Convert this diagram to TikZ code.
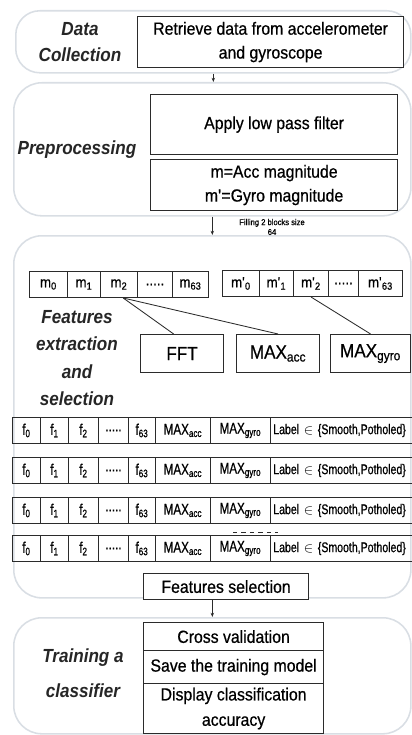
\documentclass[tikz,border=0pt]{standalone}
\usepackage{fontspec}
\setmainfont{Liberation Sans}[FakeStretch=0.9,UprightFeatures={FakeBold=0.6}]
\newfontfamily\narrowfont{Liberation Sans}[FakeStretch=0.75,FakeBold=0.6]
\usetikzlibrary{arrows.meta,positioning,calc}
\definecolor{framec}{HTML}{D9DEE4}
\definecolor{boxc}{HTML}{2B2B2B}
\tikzset{
  >={Stealth[length=3pt,width=2.4pt]},
  frame/.style={draw=framec,line width=1.1pt,rounded corners=0.7cm,fill=white,anchor=north west,inner sep=0pt},
  box/.style={draw=boxc,line width=0.8pt,fill=white,anchor=north west,align=center,inner sep=1pt,font=\fontsize{12.5}{17}\selectfont},
  stage/.style={font=\fontsize{13.5}{19}\selectfont\bfseries\itshape,align=center,text=black!85},
  mcell/.style={draw=boxc,line width=0.7pt,anchor=north west,inner sep=0pt,minimum height=0.65cm,font=\fontsize{10.5}{12}\selectfont},
  fcell/.style={mcell,font=\narrowfont\fontsize{11}{12}\selectfont},
  feat/.style={box,minimum height=0.95cm,font=\fontsize{13.5}{16}\selectfont},
  link/.style={draw=boxc,line width=0.6pt},
  flow/.style={->,draw=boxc,line width=0.6pt},
  note/.style={font=\fontsize{6}{7}\selectfont,align=center},
}
\newcommand{\fivedots}{.....}
\newcommand{\cellrow}[4]{%
  \foreach \xa/\xb/\lbl [count=\k from 0] in {#4} {
    \pgfmathsetmacro\cw{(\xb-\xa)*0.025}
    \node[#3,minimum width=\cw cm] (#1-\k) at (\xa,#2) {\lbl};}}
\newcommand{\frow}[2]{%
  \cellrow{#1}{#2}{fcell}{12/40/f\textsubscript{0},40/68/f\textsubscript{1},68/98/f\textsubscript{2},98/128/\fivedots,128/155/f\textsubscript{63},155/210/MAX\textsubscript{acc},210/270/MAX\textsubscript{gyro}}
  \node[fcell,font=\narrowfont\fontsize{10}{12}\selectfont,text width=4cm,align=left,inner xsep=2pt] (#1-lab) at (270,#2) {Label $\in$ \{Smooth,Potholed\}};}

\begin{document}
\begin{tikzpicture}[x=0.025cm,y=-0.025cm]
  \useasboundingbox (0,0) rectangle (412,735);
  % stage frames
  \node[frame,minimum width=9.875cm,minimum height=1.55cm,rounded corners=0.6cm] (dcframe) at (15,10) {};
  \node[frame,minimum width=9.925cm,minimum height=3.325cm] (preframe) at (13,82) {};
  \node[frame,minimum width=9.925cm,minimum height=9.05cm] (fesframe) at (13,235) {};
  \node[frame,minimum width=9.925cm,minimum height=2.9cm] (tcframe) at (13,617) {};
  % data collection
  \node[stage] (dclab) at (80,42) {Data\\Collection};
  \node[box,minimum width=6.65cm,minimum height=1.275cm] (retrieve) at (137,16) {Retrieve data from accelerometer\\and gyroscope};
  % preprocessing
  \node[stage] (prelab) at (77,150) {Preprocessing};
  \node[box,minimum width=6.175cm,minimum height=1.5cm] (lpf) at (150,94) {Apply low pass filter};
  \node[box,minimum width=6.175cm,minimum height=1.275cm] (mag) at (150,159) {m=Acc magnitude\\m\textquotesingle=Gyro magnitude};
  % features extraction and selection
  \node[stage,font=\fontsize{13.5}{19.5}\selectfont\bfseries\itshape] (feslab) at (77,358) {Features\\extraction\\and\\selection};
  \cellrow{m}{271}{mcell}{29/67/m\textsubscript{0},67/100/m\textsubscript{1},100/137/m\textsubscript{2},137/172/\fivedots,172/208/m\textsubscript{63}}
  \cellrow{mp}{270}{mcell}{222/259/m\textquotesingle\textsubscript{0},259/293/m\textquotesingle\textsubscript{1},293/328/m\textquotesingle\textsubscript{2},328/358/\fivedots,358/402/m\textquotesingle\textsubscript{63}}
  \node[feat,minimum width=2.075cm] (fft) at (140,334) {FFT};
  \node[feat,minimum width=2.075cm] (maxacc) at (236,334) {MAX\textsubscript{acc}};
  \node[feat,minimum width=2cm] (maxgyro) at (330,334) {MAX\textsubscript{gyro}};
  \coordinate (mtwo) at ([xshift=3pt]m-2.south);
  \draw[link] (mtwo) -- ([xshift=-6pt]fft.north);
  \draw[link] (mtwo) -- (maxacc.north);
  \draw[link] (mp-2.south) -- (maxgyro.north);
  \frow{ra}{417}
  \frow{rb}{457}
  \frow{rc}{497}
  \frow{rd}{535}
  \draw[link,dashed,line width=0.5pt] (233,532) -- (278,532);
  \node[box,minimum width=4.125cm,minimum height=0.65cm] (featsel) at (143,573) {Features selection};
  % training a classifier
  \node[stage,font=\fontsize{13.5}{25}\selectfont\bfseries\itshape] (tclab) at (83,673) {Training a\\classifier};
  \node[box,minimum width=4.5cm,minimum height=0.7cm] (cv) at (143,622) {Cross validation};
  \node[box,minimum width=4.5cm,minimum height=0.825cm] (save) at (143,650) {Save the training model};
  \node[box,minimum width=4.5cm,minimum height=1.25cm,font=\fontsize{12.5}{18}\selectfont] (disp) at (143,683) {Display classification\\accuracy};
  % flow between stages
  \draw[flow] (dcframe.south) -- (dcframe.south |- preframe.north);
  \draw[flow] (preframe.south) -- (preframe.south |- fesframe.north);
  \node[note] (filling) at (272,227) {Filling 2 blocks size\\64};
  \draw[flow] (tcframe.north |- featsel.south) -- (tcframe.north);
\end{tikzpicture}
\end{document}
